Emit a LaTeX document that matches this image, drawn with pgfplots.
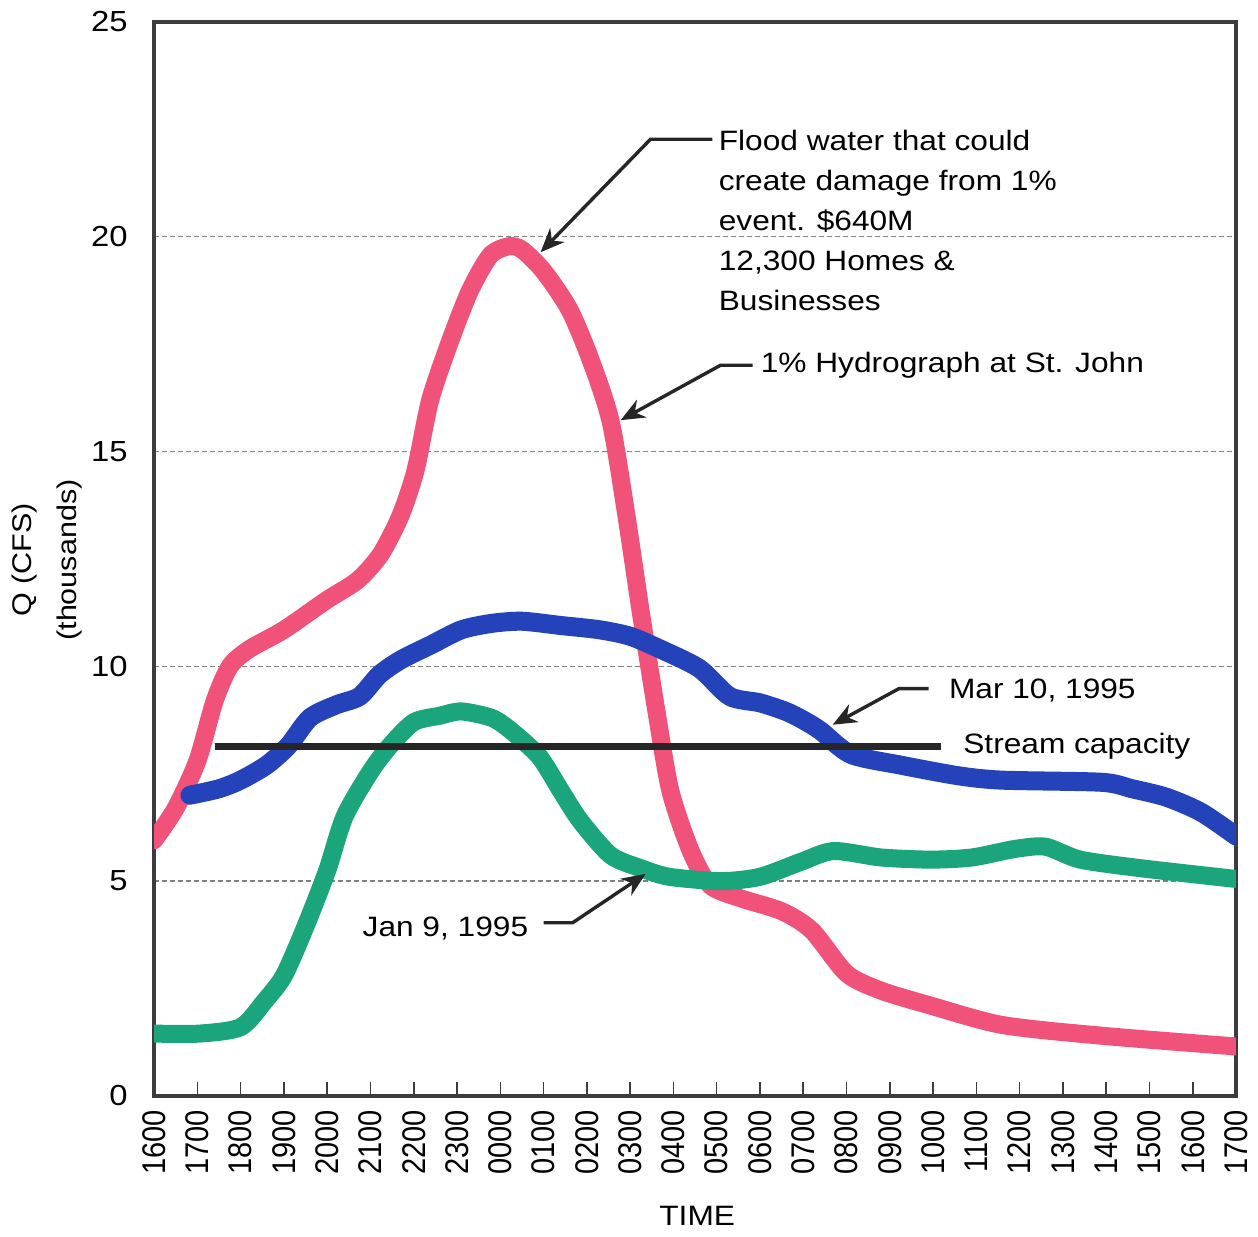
\documentclass[border=0pt]{standalone}
\usepackage{graphicx}
\usepackage{pgfplots}
\pgfplotsset{compat=1.18}
\usetikzlibrary{arrows.meta}
\usepackage{fontspec}
\setmainfont{Liberation Sans}[FakeStretch=1.13]
\newfontfamily\plainfont{Liberation Sans}

\definecolor{hydro}{RGB}{240,82,122}
\definecolor{march}{RGB}{36,66,185}
\definecolor{january}{RGB}{26,165,125}
\definecolor{frame}{RGB}{60,60,60}

\newcommand{\xl}[1]{\scalebox{1}[1.13]{\plainfont #1}}

\tikzset{
    annot/.style={line width=1.7pt, black!85, -{Stealth[length=12pt,width=10pt]}},
    lbl/.style={anchor=west, inner sep=0pt, font=\fontsize{14}{20}\selectfont, align=left},
}

% hours after 1600; Q in thousands of cfs
\pgfplotstableread{
h q
0 5.95
0.5 6.7
1 7.8
1.4 9.2
1.75 10.0
2.2 10.4
3 10.85
4 11.55
4.7 12.0
5.23 12.6
5.69 13.5
6.04 14.56
6.38 16.2
6.85 17.6
7.3 18.75
7.77 19.57
8.2 19.78
8.5 19.7
9.0 19.2
9.6 18.3
10.1 17.1
10.55 15.7
10.9 13.6
11.24 11.3
11.6 9.0
11.93 7.1
12.4 5.7
12.85 4.9
13.55 4.6
14.5 4.3
15.2 3.85
16.0 2.85
16.8 2.45
17.95 2.1
19.6 1.65
21.9 1.4
25 1.15
}\hydrotab

\pgfplotstableread{
h q
0.83 7.0
1.5 7.15
2.0 7.35
2.6 7.7
3.1 8.15
3.6 8.8
4.2 9.1
4.75 9.3
5.2 9.8
5.7 10.15
6.4 10.5
7.1 10.85
7.8 11.0
8.5 11.05
9.4 10.95
10.3 10.85
11.0 10.7
11.7 10.4
12.6 9.95
13.3 9.3
14.0 9.15
14.6 8.95
15.0 8.75
15.4 8.5
16.1 7.95
17.25 7.7
18.6 7.45
19.6 7.35
21.9 7.3
22.6 7.15
23.4 6.95
24.2 6.6
25 6.05
}\martab

\pgfplotstableread{
h q
0 1.45
1.05 1.45
2.0 1.6
2.55 2.2
3.0 2.8
3.5 3.95
4.0 5.25
4.4 6.5
5.0 7.55
5.45 8.15
6.0 8.7
6.6 8.85
7.1 8.95
7.8 8.8
8.25 8.5
8.9 7.9
9.4 7.1
9.85 6.4
10.55 5.6
11.25 5.3
11.9 5.1
13.1 5.0
14.0 5.1
14.95 5.45
15.7 5.7
16.8 5.55
17.95 5.5
18.9 5.55
19.9 5.75
20.6 5.8
21.4 5.5
22.8 5.3
25 5.05
}\jantab

\begin{document}
\begin{tikzpicture}
\useasboundingbox (-77pt,-70.5pt) rectangle (551.5pt,547.5pt);
\begin{axis}[
    at={(0pt,0pt)}, anchor=south west,
    scale only axis,
    width=540.5pt, height=536.5pt,
    xmin=0, xmax=25, ymin=0, ymax=25,
    xtick={0,1,...,25},
    xticklabels={\xl{1600},\xl{1700},\xl{1800},\xl{1900},\xl{2000},\xl{2100},\xl{2200},\xl{2300},
        \xl{0000},\xl{0100},\xl{0200},\xl{0300},\xl{0400},\xl{0500},\xl{0600},\xl{0700},\xl{0800},
        \xl{0900},\xl{1000},\xl{1100},\xl{1200},\xl{1300},\xl{1400},\xl{1500},\xl{1600},\xl{1700}},
    ytick={0,5,...,25},
    xtick pos=bottom, ytick pos=left,
    tick align=inside,
    major tick length=7pt,
    xtick style={line width=0.8pt, frame},
    ytick style={draw=none},
    /pgf/number format/assume math mode=true,
    xticklabel style={rotate=90, anchor=east, inner xsep=7pt, font=\fontsize{14.5}{14.5}\selectfont},
    yticklabel style={anchor=east, inner xsep=13pt, font=\fontsize{14.5}{14.5}\selectfont},
    ymajorgrids,
    grid style={gray, line width=0.6pt, dash pattern=on 2.5pt off 1.5pt},
    axis line style={line width=1.8pt, frame},
    xlabel={TIME},
    xlabel style={at={(axis description cs:0.502,-0.1118)}, anchor=center, font=\fontsize{14}{14}\selectfont},
    ylabel={Q (CFS)\\(thousands)},
    ylabel style={at={(axis description cs:-0.099,0.499)}, anchor=center, align=center,
        font=\fontsize{13.5}{22}\selectfont},
    every axis plot/.append style={line join=round, line cap=round},
]

\addplot[hydro, line width=9pt, smooth, tension=0.45] table[x=h, y=q] {\hydrotab};
\addplot[january, line width=9pt, smooth, tension=0.45] table[x=h, y=q] {\jantab};
\addplot[march, line width=9.5pt, smooth, tension=0.45] table[x=h, y=q] {\martab};
\addplot[black!85, line width=3.5pt, line cap=butt] coordinates {(1.4,8.13) (18.18,8.13)};

\node[lbl] at (axis cs:13.04,20.37) {Flood water that could\\create damage from 1\%\\event. \$640M\\12,300 Homes \&\\Businesses};
\draw[annot] (axis cs:12.9,22.27) -- (axis cs:11.47,22.27) -- (axis cs:8.93,19.64);

\node[lbl] at (axis cs:14.01,17.01) {1\% Hydrograph at St. John};
\draw[annot] (axis cs:13.83,17.01) -- (axis cs:13.09,17.01) -- (axis cs:10.78,15.73);

\node[lbl] at (axis cs:18.36,9.44) {Mar 10, 1995};
\draw[annot] (axis cs:17.9,9.48) -- (axis cs:17.21,9.48) -- (axis cs:15.68,8.64);

\node[lbl] at (axis cs:18.69,8.15) {Stream capacity};

\node[lbl] at (axis cs:4.81,3.89) {Jan 9, 1995};
\draw[annot] (axis cs:9.0,4.03) -- (axis cs:9.67,4.03) -- (axis cs:11.36,5.17);

\end{axis}
\end{tikzpicture}
\end{document}
